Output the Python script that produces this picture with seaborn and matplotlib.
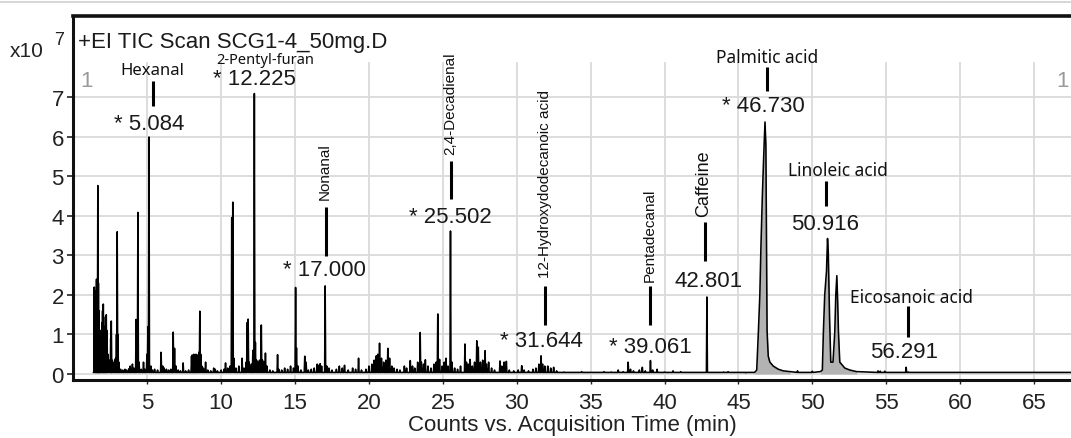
import numpy as np
import pandas as pd
import matplotlib
matplotlib.use("Agg")
import matplotlib.pyplot as plt
import seaborn as sns
from matplotlib.lines import Line2D

# ------------------------------------------------------------------ data
# narrow chromatogram peaks: retention time (min) and intensity (x10^7)
spike_rt = [
    1.42, 1.47, 1.52, 1.57, 1.62, 1.66, 1.70, 1.74, 1.78, 1.83, 1.88, 1.93, 1.98,
    2.03, 2.08, 2.13, 2.18, 2.23, 2.28, 2.33, 2.40, 2.47, 2.53, 2.57, 2.62, 2.68,
    2.74, 2.80, 2.86, 2.92, 2.97, 3.02, 3.08, 3.20, 3.35, 3.50, 3.60, 3.75, 3.85,
    4.00, 4.10, 4.25, 4.30, 4.37, 4.45, 4.60, 4.75, 4.85, 4.98, 5.05, 5.12, 5.25,
    5.35, 5.50, 5.70, 5.94, 6.05, 6.15, 6.30, 6.45, 6.60, 6.76, 6.85, 6.95, 7.10,
    7.25, 7.43, 7.60, 7.80, 8.00, 8.05, 8.10, 8.15, 8.20, 8.25, 8.30, 8.35, 8.40,
    8.45, 8.50, 8.56, 8.62, 8.70, 8.80, 8.95, 9.10, 9.30, 9.50, 9.60, 9.75, 10.00,
    10.20, 10.30, 10.45, 10.60, 10.72, 10.79, 10.86, 11.00, 11.20, 11.42, 11.55,
    11.70, 11.76, 11.83, 11.90, 12.05, 12.15, 12.25, 12.32, 12.40, 12.50, 12.60,
    12.72, 12.80, 12.90, 13.00, 13.10, 13.30, 13.50, 13.82, 13.90, 14.10, 14.30,
    14.50, 14.70, 14.90, 15.04, 15.10, 15.20, 15.40, 15.66, 15.75, 15.90, 16.10,
    16.30, 16.50, 16.60, 16.70, 16.80, 17.04, 17.15, 17.30, 17.50, 17.80, 18.00,
    18.20, 18.35, 18.60, 18.90, 19.10, 19.30, 19.50, 19.80, 20.00, 20.20, 20.35,
    20.50, 20.60, 20.72, 20.85, 21.00, 21.15, 21.28, 21.40, 21.55, 21.70, 21.90,
    22.10, 22.40, 22.55, 22.80, 22.95, 23.10, 23.30, 23.47, 23.55, 23.70, 23.82,
    24.00, 24.20, 24.40, 24.55, 24.66, 24.78, 24.95, 25.10, 25.22, 25.35, 25.52,
    25.62, 25.80, 26.00, 26.20, 26.50, 26.60, 26.72, 26.85, 27.00, 27.15, 27.30,
    27.40, 27.55, 27.70, 27.86, 27.95, 28.10, 28.30, 28.50, 28.87, 29.00, 29.15,
    29.30, 29.50, 29.80, 30.10, 30.34, 30.50, 30.80, 31.10, 31.30, 31.50, 31.65,
    31.75, 31.90, 32.10, 32.30, 32.50, 32.70, 33.20, 34.40, 35.00, 35.90, 36.40,
    36.87, 37.20, 37.54, 37.70, 37.90, 38.30, 38.50, 38.70, 39.05, 39.20, 39.50,
    40.00, 40.58, 41.10, 41.50, 42.87, 43.50, 44.00, 44.30, 44.80, 45.50, 49.00,
    50.00, 54.45, 54.60, 54.90, 56.35, 56.50,
]
spike_height = [
    2.20, 1.60, 2.10, 2.40, 1.50, 4.77, 2.30, 1.60, 0.80, 1.10, 0.70, 1.30, 1.60,
    1.77, 1.20, 0.90, 1.45, 1.50, 1.10, 0.50, 0.30, 0.35, 0.90, 1.34, 0.35, 0.30,
    0.28, 0.35, 0.40, 1.00, 3.60, 1.00, 0.30, 0.12, 0.10, 0.12, 0.10, 0.13, 0.20,
    0.25, 0.15, 1.38, 0.60, 4.09, 0.30, 0.12, 0.30, 0.12, 0.50, 1.20, 6.00, 0.20,
    0.10, 0.12, 0.10, 0.55, 0.20, 0.15, 0.12, 0.10, 0.12, 1.06, 0.65, 0.20, 0.10,
    0.08, 0.28, 0.08, 0.10, 0.45, 0.48, 0.45, 0.50, 0.47, 0.45, 0.50, 0.42, 0.48,
    0.45, 0.55, 1.59, 0.50, 0.20, 0.15, 0.30, 0.10, 0.08, 0.15, 0.12, 0.08, 0.10,
    0.12, 0.28, 0.15, 0.20, 3.96, 4.35, 0.40, 0.15, 0.20, 0.40, 0.15,
    0.30, 1.30, 1.39, 0.30, 0.25, 0.60, 7.10, 0.80, 0.35, 0.30, 0.35,
    1.24, 0.35, 0.30, 0.53, 0.20, 0.10, 0.08, 0.49, 0.12, 0.10, 0.15,
    0.12, 0.20, 0.15, 2.19, 0.66, 0.20, 0.10, 0.45, 0.30, 0.10, 0.12,
    0.15, 0.25, 0.22, 0.26, 0.20, 2.23, 0.20, 0.15, 0.10, 0.12, 0.20,
    0.15, 0.22, 0.10, 0.15, 0.12, 0.40, 0.10, 0.12, 0.20, 0.25, 0.35,
    0.46, 0.50, 0.78, 0.40, 0.30, 0.35, 0.65, 0.40, 0.20, 0.15, 0.12,
    0.10, 0.20, 0.15, 0.34, 0.20, 0.15, 0.30, 1.05, 0.30, 0.25, 0.36,
    0.20, 0.15, 0.25, 0.30, 1.52, 0.37, 0.20, 0.30, 0.40, 0.20, 3.62,
    0.30, 0.15, 0.12, 0.20, 0.76, 0.30, 0.25, 0.37, 0.20, 0.30, 0.84,
    0.68, 0.30, 0.35, 0.59, 0.25, 0.30, 0.15, 0.10, 0.33, 0.20, 0.30,
    0.32, 0.10, 0.08, 0.10, 0.21, 0.10, 0.08, 0.12, 0.15, 0.25, 0.46,
    0.25, 0.20, 0.20, 0.15, 0.17, 0.08, 0.05, 0.06, 0.04, 0.06, 0.05,
    0.10, 0.06, 0.30, 0.12, 0.08, 0.10, 0.17, 0.08, 0.34, 0.10, 0.12,
    0.05, 0.08, 0.06, 0.04, 1.95, 0.04, 0.05, 0.06, 0.04, 0.03, 0.08,
    0.07, 0.08, 0.07, 0.07, 0.17, 0.05,
]

# broad (shaded) peaks, outline read point by point
palmitic_rt = [46.10, 46.24, 46.35, 46.45, 46.53, 46.62, 46.72, 46.80, 46.86, 46.90,
               46.94, 47.02, 47.13, 47.36, 47.70, 48.03, 48.50]
palmitic_int = [0.04, 0.10, 1.05, 2.00, 3.30, 4.50, 5.60, 6.38, 5.80, 3.30,
                1.10, 0.45, 0.30, 0.20, 0.12, 0.08, 0.06]
linoleic_rt = [50.55, 50.68, 50.75, 50.84, 50.90, 50.96, 51.03, 51.08, 51.13, 51.17,
               51.25, 51.40, 51.52, 51.59, 51.66, 51.72, 51.77, 51.86, 52.20, 52.54, 53.00]
linoleic_int = [0.06, 0.10, 1.06, 2.00, 2.30, 2.60, 3.43, 3.10, 2.20, 1.40,
                0.30, 0.30, 1.06, 2.00, 2.49, 1.80, 1.06, 0.30, 0.15, 0.10, 0.06]

x_ticks = [5, 10, 15, 20, 25, 30, 35, 40, 45, 50, 55, 60, 65]
y_ticks = [0, 1, 2, 3, 4, 5, 6, 7]

# annotated compounds
names = ["Hexanal", "2-Pentyl-furan", "Nonanal", "2,4-Decadienal",
         "12-Hydroxydodecanoic acid", "Pentadecanal", "Caffeine",
         "Palmitic acid", "Linoleic acid", "Eicosanoic acid"]
rt_labels = ["* 5.084", "* 12.225", "* 17.000", "* 25.502", "* 31.644",
             "* 39.061", "42.801", "* 46.730", "50.916", "56.291"]

# ------------------------------------------------------------------ layout
BASE = 0.04        # baseline level of the trace
HW = 0.035         # half width of a narrow spike (drawing style)
T_START, T_END = 1.35, 67.5

# (number x, number baseline y) in data coordinates
num_pos = [(5.12, 6.20), (12.23, 7.34), (17.0, 2.51), (25.52, 3.86), (31.64, 0.72),
           (39.02, 0.56), (43.01, 2.23), (46.70, 6.67), (50.89, 3.67), (56.20, 0.42)]
# connector lines: x, y0, y1 (None when absent)
conn = [(5.37, 6.78, 7.42), None, (17.08, 2.99, 4.23), (25.56, 4.43, 5.39),
        (31.91, 1.24, 2.23), (39.02, 1.24, 2.23), (42.72, 2.86, 3.85),
        (46.91, 7.16, 7.77), (50.91, 4.25, 4.89), (56.50, 0.94, 1.72)]
# name placement: (x, y, rotated, fontsize, family)
name_pos = [(5.36, 7.59, False, 12, "Noto Sans"),
            (13.0, 7.87, False, 10.5, "Noto Sans"),
            (17.03, 4.43, True, 11, "Liberation Sans"),
            (25.50, 5.57, True, 11, "Liberation Sans"),
            (31.90, 2.46, True, 11, "Liberation Sans"),
            (39.00, 2.35, True, 11, "Liberation Sans"),
            (42.68, 4.00, True, 13, "Liberation Sans"),
            (46.91, 7.89, False, 12.5, "Noto Sans"),
            (51.76, 5.04, False, 12.5, "Noto Sans"),
            (56.73, 1.82, False, 12.5, "Noto Sans")]

# ------------------------------------------------------------------ trace
features = []
for t, h in zip(spike_rt, spike_height):
    features.append((t - HW, [(t - HW, BASE), (t, h), (t + HW, BASE)]))
features.append((palmitic_rt[0], list(zip(palmitic_rt, palmitic_int))))
features.append((linoleic_rt[0], list(zip(linoleic_rt, linoleic_int))))
features.sort(key=lambda f: f[0])
tx, ty = [T_START], [BASE]
for _, pts in features:
    for a, b in pts:
        tx.append(a)
        ty.append(b)
tx.append(T_END)
ty.append(BASE)
df = pd.DataFrame({"time": tx, "intensity": ty, "order": np.arange(len(tx))})

# ------------------------------------------------------------------ figure
sns.set_style("white")
plt.rcParams["font.family"] = ["Liberation Sans", "DejaVu Sans"]

W, H = 1071, 439
fig = plt.figure(figsize=(W / 100, H / 100), dpi=100)
ax = fig.add_axes([73.3 / W, 58 / H, 1 - 73.3 / W, 364 / H])

XMAX = (W - 73.3) / 14.78
YMIN, YMAX = -0.152, 9.063
ax.set_xlim(0, XMAX)
ax.set_ylim(YMIN, YMAX)

grid_c = "#dadada"
for y in y_ticks:
    ax.axhline(y, color=grid_c, lw=1.3, zorder=0)
ax.vlines(x_ticks, YMIN, 7.9, color=grid_c, lw=1.3, zorder=0)

# shaded broad peaks
for rts, ints in [(palmitic_rt, palmitic_int), (linoleic_rt, linoleic_int)]:
    ax.fill_between(rts, ints, 0, color="#b3b3b3", lw=0, zorder=1)

sns.lineplot(data=df, x="time", y="intensity", sort=False, estimator=None,
             color="black", linewidth=1.15, ax=ax, zorder=2)

# annotations
for i in range(len(names)):
    nx, ny = num_pos[i]
    ax.text(nx, ny, rt_labels[i], ha="center", va="baseline", fontsize=16,
            color="#1a1a1a", zorder=4)
    if conn[i] is not None:
        cx, c0, c1 = conn[i]
        ax.vlines(cx, c0, c1, color="black", lw=2.2, zorder=4)
    px, py, rot, fs, fam = name_pos[i]
    if rot:
        ax.text(px, py, names[i], rotation=90, ha="center", va="bottom",
                fontsize=fs, family=[fam, "DejaVu Sans"], color="#111111", zorder=4)
    else:
        ax.text(px, py, names[i], ha="center", va="baseline", fontsize=fs,
                family=[fam, "DejaVu Sans"], color="#111111", zorder=4)

# axes styling
ax.set_xticks(x_ticks)
ax.set_yticks(y_ticks)
ax.set_xticklabels([str(v) for v in x_ticks])
ax.set_yticklabels([str(v) for v in y_ticks])
ax.tick_params(axis="y", labelsize=16, length=4.3, width=1.2, pad=2.5,
               colors="#222222", left=True)
ax.tick_params(axis="x", labelsize=16, length=3, width=1.0, pad=5.5,
               colors="#222222", bottom=True)
ax.set_ylabel("")
ax.set_xlabel("Counts vs. Acquisition Time (min)", fontsize=16, color="#222222",
              labelpad=1)
for s in ["left", "bottom", "top"]:
    ax.spines[s].set_visible(True)
    ax.spines[s].set_color("#111111")
ax.spines["left"].set_linewidth(2.2)
ax.spines["bottom"].set_linewidth(2.2)
ax.spines["top"].set_linewidth(2.6)
ax.spines["right"].set_visible(False)

# header texts
fig.text(78 / W, 1 - 48 / H, "+EI TIC Scan SCG1-4_50mg.D", fontsize=16,
         color="#1a1a1a", ha="left", va="baseline")
fig.text(10 / W, 1 - 57 / H, "x10", fontsize=15, color="#222222",
         ha="left", va="baseline")
fig.text(54 / W, 1 - 45 / H, "7", fontsize=13, color="#222222",
         ha="left", va="baseline")
fig.text(80 / W, 1 - 87 / H, "1", fontsize=16, color="#9a9a9a",
         ha="left", va="baseline")
fig.text(1056 / W, 1 - 87 / H, "1", fontsize=16, color="#9a9a9a",
         ha="left", va="baseline")
fig.add_artist(Line2D([0, 1], [1 - 3 / H, 1 - 3 / H], transform=fig.transFigure,
                      color="#cfcfcf", lw=1.2))

fig.savefig("out.png", dpi=100)
